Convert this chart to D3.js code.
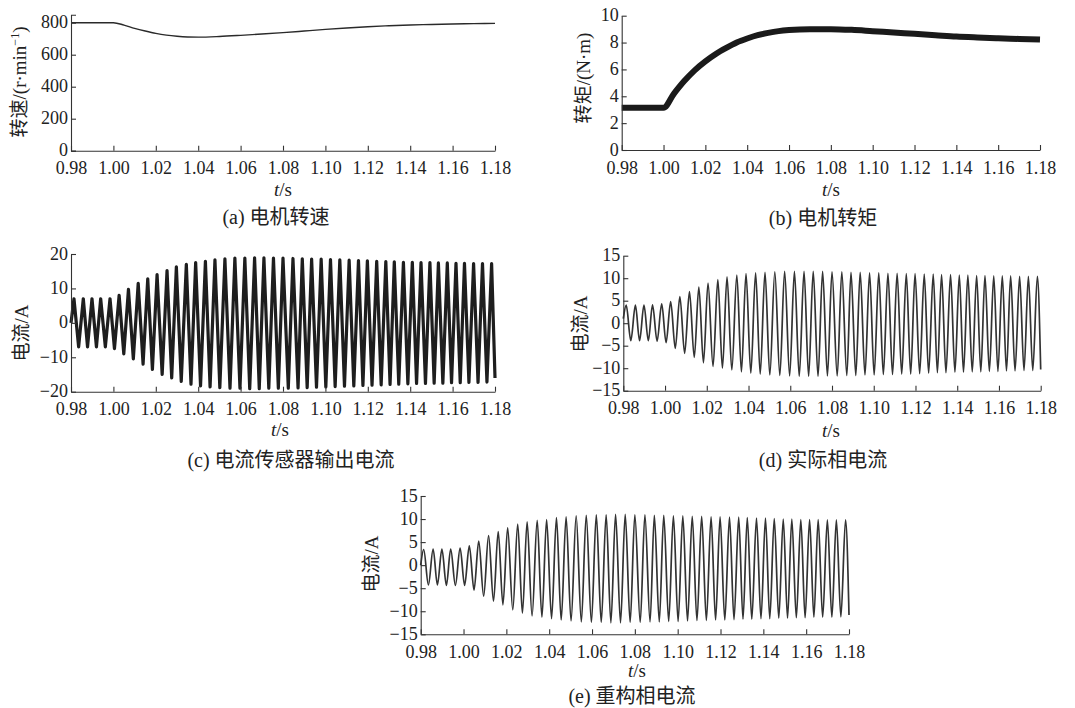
<!DOCTYPE html>
<html><head><meta charset="utf-8">
<script src="https://cdn.jsdelivr.net/npm/d3@7"></script>
<style>
body{margin:0;background:#fff;}
svg text{font-family:"Liberation Serif","Times New Roman","Noto Sans CJK SC",serif;fill:#222;}
</style></head><body>
<svg id="chart" width="1075" height="708"></svg>
<script>
// ---------- data ----------
const xTickValues = [0.98,1.00,1.02,1.04,1.06,1.08,1.10,1.12,1.14,1.16,1.18];

const speedTimes  = [0.98,1.00,1.005,1.01,1.015,1.02,1.025,1.03,1.035,1.04,1.05,1.06,1.07,1.08,1.09,1.10,1.11,1.12,1.13,1.14,1.15,1.16,1.17,1.18];
const speedValues = [800,800,785,765,748,733,722,715,711,710,714,721,729,738,748,758,767,775,781,786,789,792,794,796];
const speedTicks  = [0,200,400,600,800];

const torqueTimes  = [0.98,1.00,1.005,1.01,1.015,1.02,1.025,1.03,1.035,1.04,1.045,1.05,1.055,1.06,1.07,1.08,1.09,1.10,1.11,1.12,1.13,1.14,1.15,1.16,1.17,1.18];
const torqueValues = [3.15,3.15,4.2,5.15,5.95,6.6,7.15,7.6,8.0,8.3,8.55,8.72,8.85,8.93,9.0,9.0,8.95,8.85,8.75,8.65,8.55,8.45,8.38,8.32,8.27,8.22];
const torqueTicks  = [0,2,4,6,8,10];

// times of the positive peaks and negative troughs of the phase current
const peakTimes = [0.9814,0.9858,0.9899,0.9940,0.9984,1.0027,1.0071,1.0117,1.0162,1.0206,
  1.0253,1.0297,1.0344,1.0388,1.0434,1.0479,1.0526,1.0573,1.0620,1.0666,
  1.0710,1.0755,1.0800,1.0847,1.0891,1.0935,1.0980,1.1024,1.1068,1.1112,
  1.1156,1.1198,1.1242,1.1285,1.1325,1.1368,1.1410,1.1451,1.1493,1.1533,
  1.1575,1.1616,1.1656,1.1699,1.1741,1.1784];
const troughTimes = [0.9836,0.9878,0.9920,0.9962,1.0005,1.0049,1.0094,1.0140,1.0184,1.0230,
  1.0275,1.0320,1.0366,1.0411,1.0456,1.0502,1.0550,1.0597,1.0643,1.0688,
  1.0733,1.0778,1.0825,1.0871,1.0914,1.0958,1.1002,1.1046,1.1090,1.1134,
  1.1177,1.1220,1.1263,1.1305,1.1346,1.1389,1.1430,1.1472,1.1513,1.1554,
  1.1595,1.1636,1.1677,1.1720,1.1762];

// (c) current sensor output
const sensorStart = 0, sensorEnd = -16;
const sensorPeaks = [7,7,7,7,7,8,9.7,11.5,12.8,14,15.2,16.3,17,17.5,17.9,18.3,18.6,18.8,18.8,18.9,
  18.9,18.8,18.8,18.7,18.6,18.5,18.5,18.4,18.3,18.2,18.1,18,17.9,17.8,17.7,17.6,17.6,17.5,17.5,17.4,
  17.4,17.3,17.3,17.2,17.2,17.2];
const sensorTroughs = [-7,-7,-7,-7,-7.5,-9,-10.5,-12,-13.5,-15,-16,-17,-17.8,-18.3,-18.6,-18.8,-19,-19,-19.1,-19.1,
  -19,-19,-19,-18.9,-18.8,-18.7,-18.6,-18.5,-18.4,-18.3,-18.2,-18.1,-18,-17.9,-17.8,-17.7,-17.6,-17.6,-17.5,-17.5,
  -17.4,-17.4,-17.3,-17.3,-17.2];
const currentTicks20 = [-20,-10,0,10,20];

// (d) actual phase current
const actualStart = 1, actualEnd = -10.3;
const actualPeaks = [4.0,4.0,4.0,4.1,4.3,4.8,5.9,7.0,8.0,8.9,9.7,10.3,10.7,11.0,11.2,11.3,11.4,11.5,11.5,11.5,
  11.5,11.5,11.4,11.4,11.3,11.3,11.2,11.2,11.1,11.1,11.0,11.0,10.9,10.9,10.8,10.8,10.7,10.7,10.6,10.6,
  10.5,10.5,10.5,10.4,10.4,10.4];
const actualTroughs = [-3.9,-3.9,-3.9,-4.0,-4.3,-5.6,-6.7,-7.6,-8.8,-9.6,-10.0,-10.4,-10.8,-11.1,-11.3,-11.5,-11.6,-11.7,-11.8,-11.8,
  -11.8,-11.7,-11.7,-11.6,-11.6,-11.5,-11.5,-11.4,-11.4,-11.3,-11.3,-11.2,-11.1,-11.0,-11.0,-10.9,-10.9,-10.8,-10.8,-10.7,
  -10.7,-10.6,-10.6,-10.5,-10.5];

// (e) reconstructed phase current
const reconStart = 0, reconEnd = -10.8;
const reconPeaks = [3.4,3.5,3.5,3.5,3.7,4.2,5.2,6.4,7.3,8.1,8.9,9.4,9.7,9.9,10.3,10.5,10.7,10.8,10.9,10.9,
  11.0,11.0,10.9,10.9,10.8,10.8,10.7,10.7,10.6,10.6,10.5,10.5,10.4,10.4,10.3,10.2,10.2,10.1,10.0,10.0,
  9.9,9.9,9.9,9.8,9.8,9.8];
const reconTroughs = [-4.3,-4.3,-4.4,-4.4,-4.4,-5.4,-6.7,-7.8,-8.6,-9.7,-10.4,-11.0,-11.3,-11.6,-11.9,-12.1,-12.3,-12.4,-12.4,-12.5,
  -12.5,-12.4,-12.4,-12.3,-12.3,-12.2,-12.2,-12.1,-12.0,-12.0,-11.9,-11.9,-11.8,-11.7,-11.7,-11.6,-11.6,-11.5,-11.5,-11.4,
  -11.4,-11.3,-11.3,-11.3,-11.2];
const currentTicks15 = [-15,-10,-5,0,5,10,15];

// ---------- helpers ----------
function zipSeries(times, values){ return times.map((t,i)=>[t, values[i]]); }
function waveSeries(start, peaks, troughs, end){
  const pts = [[xTickValues[0], start]];
  peakTimes.forEach((t,i)=>{
    pts.push([t, peaks[i]]);
    if (i < troughTimes.length) pts.push([troughTimes[i], troughs[i]]);
  });
  pts.push([xTickValues[xTickValues.length-1], end]);
  return pts;
}

const svg = d3.select("#chart");
const FS = 19, TFS = 18;

function drawPanel(o){
  const g = svg.append("g");
  const x = d3.scaleLinear().domain([xTickValues[0], xTickValues[xTickValues.length-1]]).range([o.x0, o.x1]);
  const y = d3.scaleLinear().domain(o.yDomain).range([o.yBottom, o.yTop]);

  const line = d3.line().x(d=>x(d[0])).y(d=>y(d[1])).curve(o.curve);
  g.append("path").datum(o.data)
    .attr("fill","none").attr("stroke",o.color).attr("stroke-width",o.sw)
    .attr("stroke-linejoin","round")
    .attr("d", line);

  const xa = g.append("g").attr("transform",`translate(0,${o.yBottom})`)
    .call(d3.axisBottom(x).tickValues(xTickValues).tickFormat(d3.format(".2f"))
      .tickSizeInner(-5).tickSizeOuter(0).tickPadding(11));
  const ya = g.append("g").attr("transform",`translate(${o.x0},0)`)
    .call(d3.axisLeft(y).tickValues(o.yTicks).tickFormat(d3.format("d"))
      .tickSizeInner(-5).tickSizeOuter(o.outer||0).tickPadding(3));
  [xa, ya].forEach(a=>{
    a.attr("font-size", TFS).attr("font-family", null);
    a.selectAll("path,line").attr("stroke","#333").attr("stroke-width",1.1);
    a.selectAll("text").attr("fill","#222");
  });
  ya.selectAll("text").attr("dy","0.28em");

  // y-axis label
  const yl = g.append("text")
    .attr("transform",`translate(${o.ylx},${o.yly}) rotate(-90)`)
    .attr("text-anchor","middle").attr("font-size", FS);
  o.ylabel(yl);

  // x-axis label t/s
  const tl = g.append("text").attr("x", o.tx).attr("y", o.ty)
    .attr("text-anchor","middle").attr("font-size", FS);
  tl.append("tspan").attr("font-style","italic").text("t");
  tl.append("tspan").text("/s");

  // caption
  g.append("text").attr("x", o.cx).attr("y", o.cy)
    .attr("text-anchor","middle").attr("font-size", 20).text(o.caption);
}

// (a)
drawPanel({
  x0:71, x1:495, yBottom:150.7, yTop:14.7, yDomain:[0,850], yTicks:speedTicks, outer:-5,
  data: zipSeries(speedTimes, speedValues), curve: d3.curveMonotoneX, color:"#2a2a2a", sw:1.4,
  ylx:26, yly:82,
  ylabel: t=>{ t.append("tspan").text("转速/(r·min");
               t.append("tspan").attr("font-size",12).attr("dy",-7).text("−1");
               t.append("tspan").attr("dy",7).text(")"); },
  tx:283, ty:196, caption:"(a) 电机转速", cx:276, cy:224
});
// (b)
drawPanel({
  x0:621.7, x1:1040, yBottom:150, yTop:15.7, yDomain:[0,10], yTicks:torqueTicks,
  data: zipSeries(torqueTimes, torqueValues), curve: d3.curveMonotoneX, color:"#1a1a1a", sw:6,
  ylx:590, yly:78,
  ylabel: t=>t.text("转矩/(N·m)"),
  tx:831, ty:196, caption:"(b) 电机转矩", cx:823, cy:225
});
// (c)
drawPanel({
  x0:71, x1:495, yBottom:391.7, yTop:254, yDomain:[-20,20], yTicks:currentTicks20,
  data: waveSeries(sensorStart, sensorPeaks, sensorTroughs, sensorEnd), curve: d3.curveLinear, color:"#1e1e1e", sw:3.2,
  ylx:28, yly:333,
  ylabel: t=>t.text("电流/A"),
  tx:280, ty:436, caption:"(c) 电流传感器输出电流", cx:291, cy:467
});
// (d)
drawPanel({
  x0:623.3, x1:1040.7, yBottom:390.7, yTop:255.7, yDomain:[-15,15], yTicks:currentTicks15,
  data: waveSeries(actualStart, actualPeaks, actualTroughs, actualEnd), curve: d3.curveMonotoneX, color:"#333", sw:1.7,
  ylx:587, yly:324,
  ylabel: t=>t.text("电流/A"),
  tx:831, ty:437, caption:"(d) 实际相电流", cx:823, cy:467
});
// (e)
drawPanel({
  x0:420.7, x1:849, yBottom:634.3, yTop:496, yDomain:[-15,15], yTicks:currentTicks15,
  data: waveSeries(reconStart, reconPeaks, reconTroughs, reconEnd), curve: d3.curveMonotoneX, color:"#333", sw:1.7,
  ylx:378, yly:564,
  ylabel: t=>t.text("电流/A"),
  tx:637, ty:677, caption:"(e) 重构相电流", cx:632, cy:703
});
</script>
</body></html>
